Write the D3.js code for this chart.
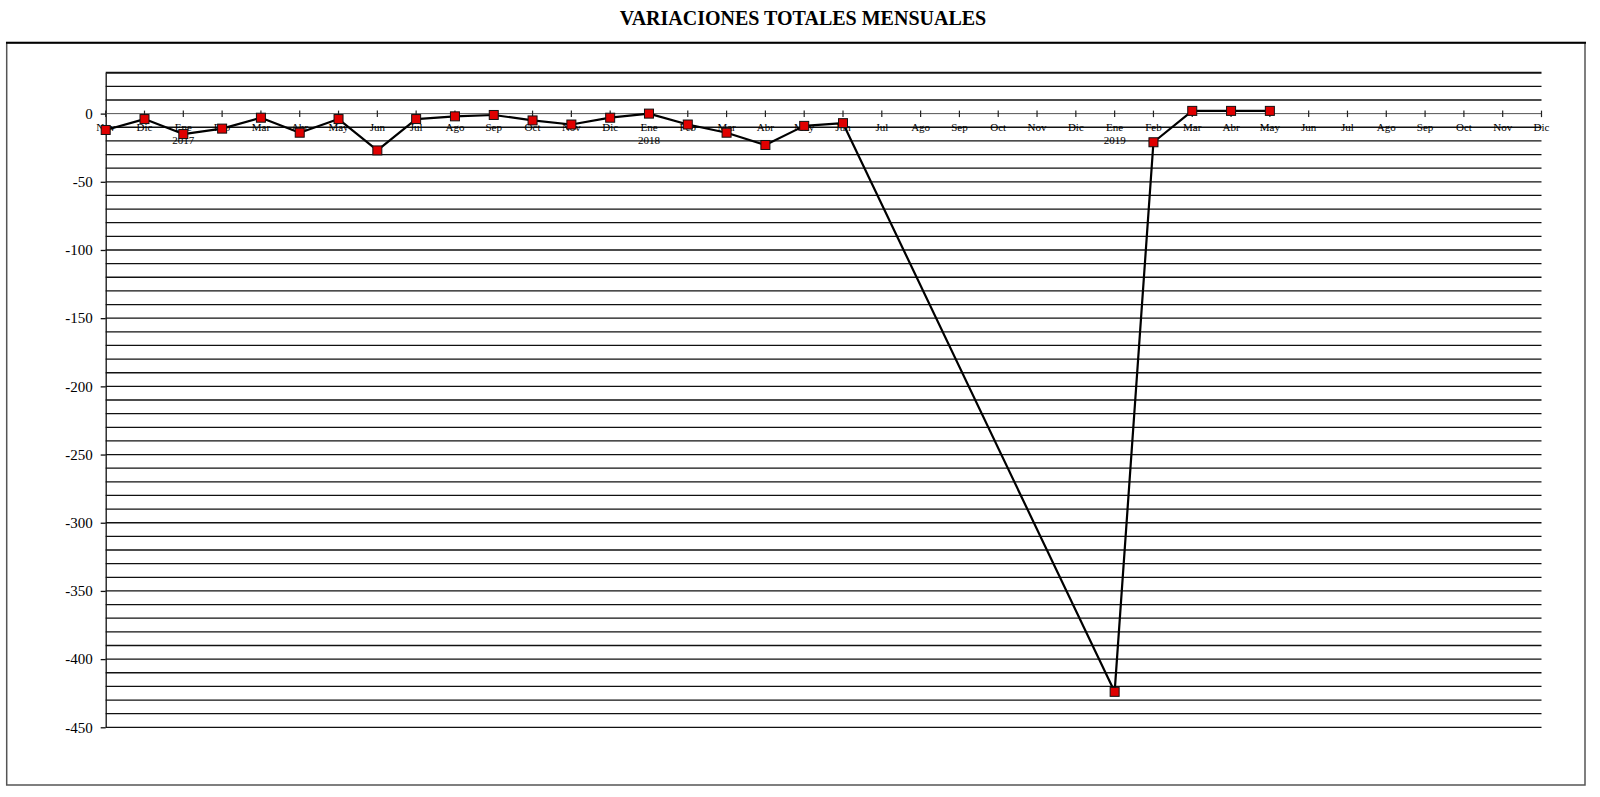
<!DOCTYPE html>
<html>
<head>
<meta charset="utf-8">
<script src="https://cdn.jsdelivr.net/npm/d3@7"></script>
<style>
  body { margin: 0; background: #fff; }
  .title { font-family: "Liberation Serif", "Times New Roman", serif; font-weight: bold; font-size: 20px; }
  .ylab { font-family: "Liberation Serif", "Times New Roman", serif; font-size: 15px; }
  .xlab { font-family: "Liberation Serif", "Times New Roman", serif; font-size: 11px; }
</style>
</head>
<body>
<div id="vis-svg"></div>
<script>
// month labels, Nov 2016 .. Dic 2019
var months = ["Nov", "Dic",
  "Ene", "Feb", "Mar", "Abr", "May", "Jun", "Jul", "Ago", "Sep", "Oct", "Nov", "Dic",
  "Ene", "Feb", "Mar", "Abr", "May", "Jun", "Jul", "Ago", "Sep", "Oct", "Nov", "Dic",
  "Ene", "Feb", "Mar", "Abr", "May", "Jun", "Jul", "Ago", "Sep", "Oct", "Nov", "Dic"];

// year shown under each "Ene"
var years = [
  { index: 2, label: "2017" },
  { index: 14, label: "2018" },
  { index: 26, label: "2019" }
];

// monthly total variation, null = no data
var values = [-12, -4,
  -15, -11, -3, -14, -4, -27, -4, -2, -1, -5, -8, -3,
  0, -8, -14, -23, -9, -7, null, null, null, null, null, null,
  -424, -21, 2, 2, 2, null, null, null, null, null, null, null];

var yTicks = [0, -50, -100, -150, -200, -250, -300, -350, -400, -450];

var width = 1600;
var height = 797;

var svg = d3
  .select("#vis-svg")
  .append("svg")
  .attr("width", width)
  .attr("height", height);

var plotLeft = 105.7, plotRight = 1541.5, plotTop = 72.7, plotBottom = 727.3;

var x = d3
  .scalePoint()
  .domain(d3.range(months.length))
  .range([plotLeft, plotRight])
  .padding(0);

var y = d3.scaleLinear().domain([30, -450]).range([plotTop, plotBottom]);

// outer frame
svg
  .append("rect")
  .attr("x", 6.7)
  .attr("y", 42.7)
  .attr("width", 1585 - 6.7)
  .attr("height", 785 - 42.7)
  .attr("fill", "none")
  .attr("stroke", "#555")
  .attr("stroke-width", 1.5);

svg
  .append("line")
  .attr("x1", 6)
  .attr("x2", 1586)
  .attr("y1", 42.7)
  .attr("y2", 42.7)
  .attr("stroke", "#000")
  .attr("stroke-width", 2);

svg
  .append("text")
  .attr("class", "title")
  .attr("x", 803)
  .attr("y", 25)
  .attr("text-anchor", "middle")
  .text("VARIACIONES TOTALES MENSUALES");

// gridlines every 10
var grid = d3.range(30, -451, -10).filter(function(d) { return d !== 0; });

svg
  .append("g")
  .selectAll("line")
  .data(grid)
  .enter()
  .append("line")
  .attr("x1", plotLeft)
  .attr("x2", plotRight)
  .attr("y1", function(d) { return y(d); })
  .attr("y2", function(d) { return y(d); })
  .attr("stroke", "#111")
  .attr("stroke-width", function(d) { return d === 30 ? 2 : 1.3; });

// y axis (plain hyphen for negatives, like the original)
var yAxis = d3
  .axisLeft(y)
  .tickValues(yTicks)
  .tickFormat(function(d) { return String(d); })
  .tickSize(5)
  .tickSizeOuter(0)
  .tickPadding(8);

var yg = svg
  .append("g")
  .attr("transform", "translate(" + plotLeft + ",0)")
  .attr("font-family", null)
  .attr("font-size", null)
  .call(yAxis);

yg.select(".domain").attr("stroke", "#111").attr("stroke-width", 1.3);
yg.selectAll(".tick line").attr("stroke", "#111").attr("stroke-width", 1.3);
yg.selectAll(".tick text")
  .attr("class", "ylab")
  .attr("fill", "#000");

// category axis on zero
var xg = svg.append("g");

xg
  .append("line")
  .attr("x1", plotLeft)
  .attr("x2", plotRight)
  .attr("y1", y(0))
  .attr("y2", y(0))
  .attr("stroke", "#555")
  .attr("stroke-width", 1);

xg
  .selectAll(".xtick")
  .data(d3.range(months.length))
  .enter()
  .append("line")
  .attr("class", "xtick")
  .attr("x1", function(d) { return x(d); })
  .attr("x2", function(d) { return x(d); })
  .attr("y1", y(0) - 3)
  .attr("y2", y(0) + 3.5)
  .attr("stroke", "#222")
  .attr("stroke-width", 1.2);

xg
  .selectAll(".xlab")
  .data(months)
  .enter()
  .append("text")
  .attr("class", "xlab")
  .attr("x", function(d, i) { return x(i); })
  .attr("y", 131)
  .attr("text-anchor", "middle")
  .text(function(d) { return d; });

xg
  .selectAll(".yearlab")
  .data(years)
  .enter()
  .append("text")
  .attr("class", "xlab yearlab")
  .attr("x", function(d) { return x(d.index); })
  .attr("y", 144)
  .attr("text-anchor", "middle")
  .text(function(d) { return d.label; });

// series
var pts = values
  .map(function(v, i) { return { i: i, v: v }; })
  .filter(function(d) { return d.v !== null; });

var line = d3
  .line()
  .x(function(d) { return x(d.i); })
  .y(function(d) { return y(d.v); });

svg
  .append("path")
  .datum(pts)
  .attr("d", line)
  .attr("fill", "none")
  .attr("stroke", "#000")
  .attr("stroke-width", 2.2)
  .attr("stroke-linejoin", "round");

svg
  .selectAll(".mark")
  .data(pts)
  .enter()
  .append("rect")
  .attr("class", "mark")
  .attr("x", function(d) { return x(d.i) - 4.5; })
  .attr("y", function(d) { return y(d.v) - 4.5; })
  .attr("width", 9)
  .attr("height", 9)
  .attr("fill", "#e00000")
  .attr("stroke", "#111")
  .attr("stroke-width", 1);
</script>
</body>
</html>
